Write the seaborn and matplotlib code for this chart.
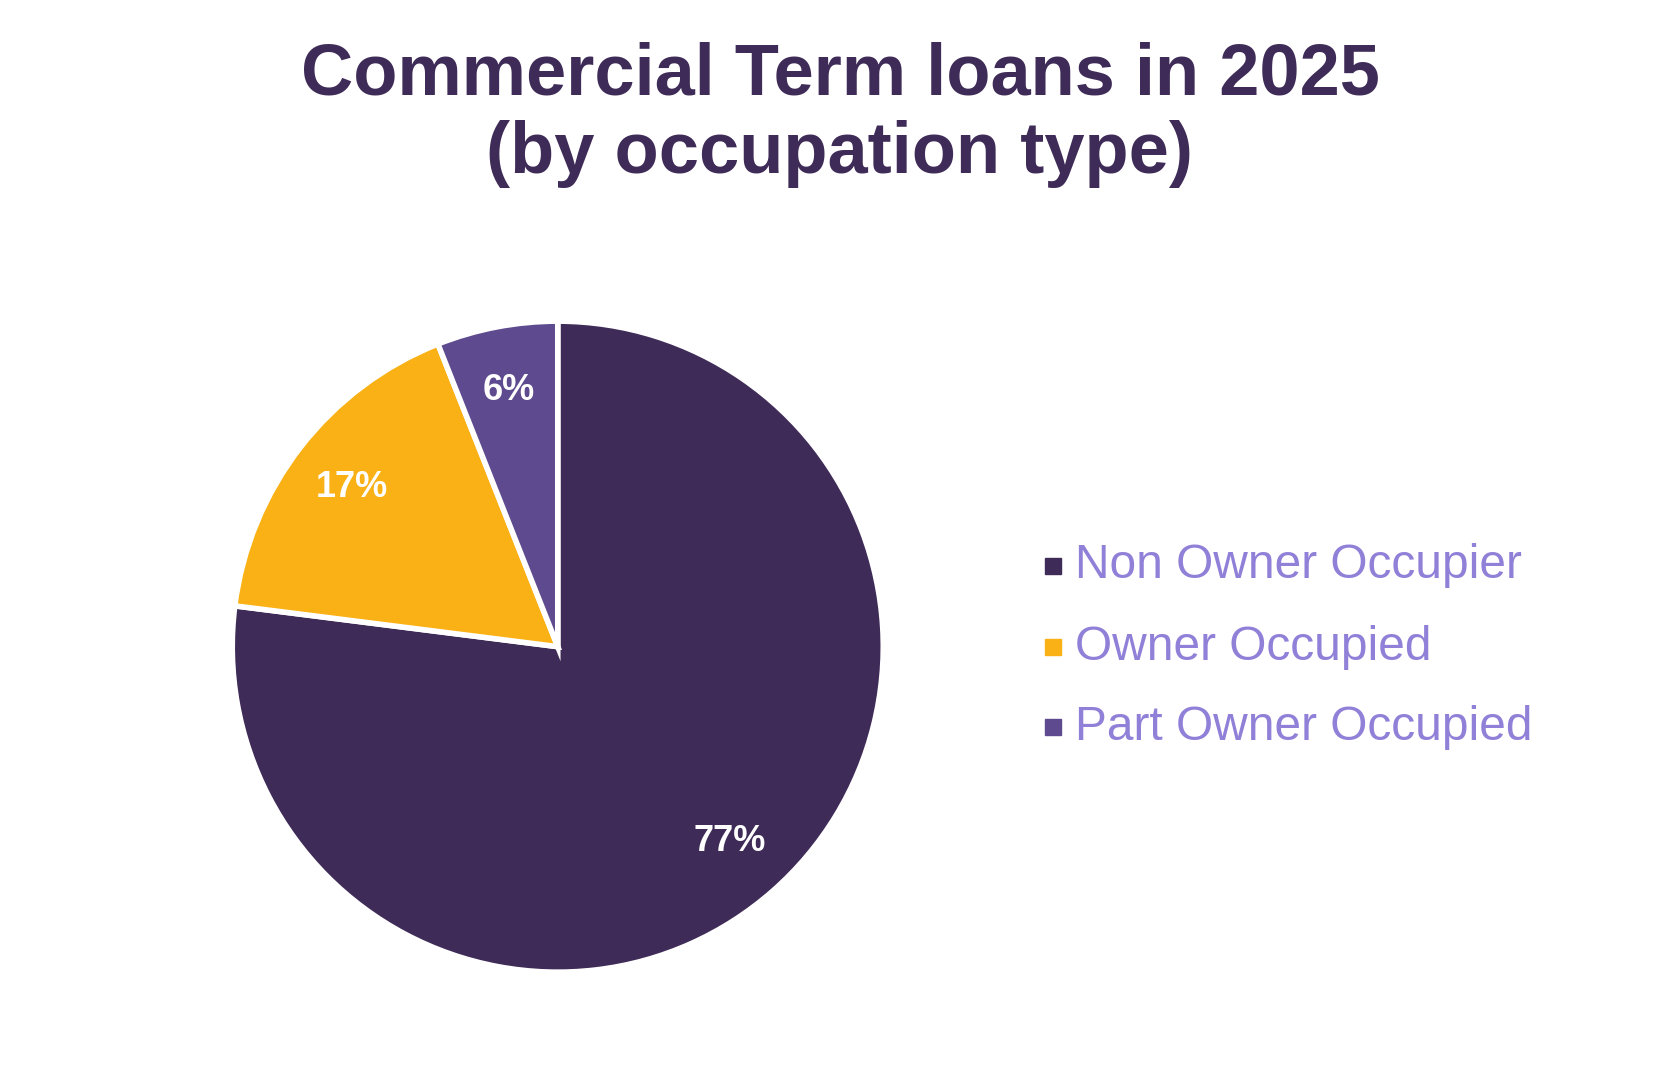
import matplotlib
matplotlib.use("Agg")
import matplotlib.pyplot as plt
import seaborn as sns
from matplotlib.patches import Rectangle

sns.set_theme(style="white")
plt.rcParams['font.family'] = ['Liberation Sans', 'DejaVu Sans']

categories = ["Non Owner Occupier", "Owner Occupied", "Part Owner Occupied"]
values = [77, 17, 6]
colors = ["#3F2B57", "#F9B115", "#5E4A8E"]
title = "Commercial Term loans in 2025\n(by occupation type)"

fig = plt.figure(figsize=(16.8, 10.85), dpi=100)
ax = fig.add_axes([0.136, 0.101, 0.392, 0.606])
wedges, texts, autotexts = ax.pie(
    values, colors=colors, startangle=90, counterclock=False,
    autopct=lambda p: f"{p:.0f}%", pctdistance=0.8,
    wedgeprops=dict(edgecolor="white", linewidth=4),
    textprops=dict(color="white", fontsize=26, fontweight="bold"))
ax.set_xlim(-1.01, 1.01)
ax.set_ylim(-1.01, 1.01)
ax.set_aspect("equal")

fig.text(0.5, 0.962, title, ha="center", va="top", fontsize=52,
         fontweight="bold", color="#3F2B57", linespacing=1.2)

ys = [566, 647, 727]
for c, lab, y in zip(categories, colors, ys):
    yf = 1 - y / 1085
    fig.patches.append(Rectangle((1045 / 1680, yf - 8 / 1085), 16 / 1680, 16 / 1085,
                                 transform=fig.transFigure, color=lab))
    fig.text(1075 / 1680, yf, c, ha="left", va="center", fontsize=34.5, color="#9080D8")

fig.savefig("out.png", dpi=100, facecolor="white")
